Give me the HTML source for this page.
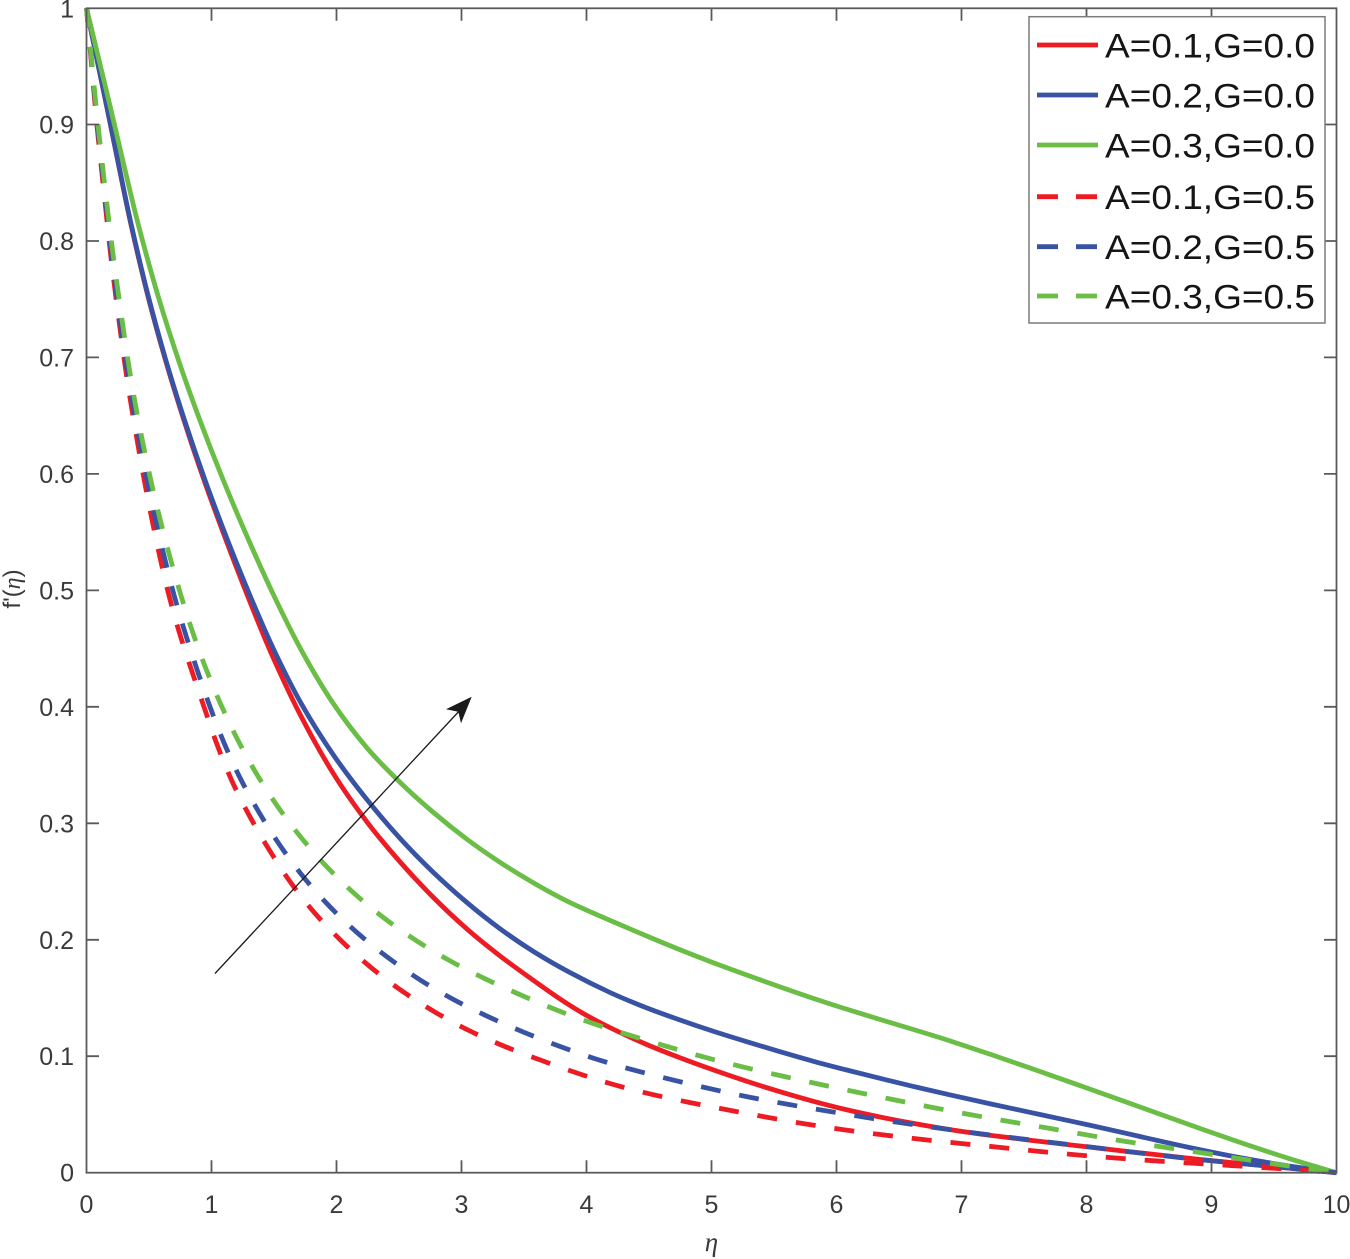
<!DOCTYPE html>
<html><head><meta charset="utf-8"><style>
html,body{margin:0;padding:0;background:#fff;}
svg{display:block;}
</style></head><body>
<svg id="chart" width="1350" height="1259" viewBox="0 0 1350 1259" xmlns="http://www.w3.org/2000/svg">
<rect width="1350" height="1259" fill="#fff"/>
<g fill="none" stroke-width="4.8" stroke-linejoin="round">
<polyline class="c" stroke="#ED1C24" points="86.5,8 97,60 107.5,110 118,160 129,220 148.3,300 165,360 183.5,420 203.5,480 225.5,540 249.5,600 268.5,650 300,716.7 333,776.7 366.7,823 400,863 433,898 466.7,930 500,956.7 533,980 566.7,1004 580,1012 613.3,1030 646.7,1045 680,1058 713.3,1070 746.7,1081.7 780,1091.7 813.3,1101.7 846.7,1110 880,1117.3 913.3,1123.3 946.7,1129.5 990,1135.5 1040,1141.5 1090,1147 1140,1153 1190,1158.5 1240,1163.5 1290,1168 1336.5,1172.7"/>
<polyline class="c" stroke="#3953A4" points="86.5,8 97,60 107.5,110 118,160 129.3,220 148.6,300 165.3,360 184,420 204.5,480 227,540 251.5,600 273.3,650 300,705 333,756.7 366.7,800 400,840 433,873 466.7,903 500,930 533,951.7 566.7,971.7 613.3,995 646.7,1008.3 680,1020 713.3,1031.7 746.7,1041.7 780,1051.7 813.3,1061.7 846.7,1070 880,1078.3 913.3,1086.7 946.7,1094 990,1104 1040,1114.5 1090,1125 1140,1136.5 1190,1148 1240,1158 1290,1166.7 1336.5,1172.7"/>
<polyline class="c" stroke="#6ABD45" points="86.5,8 99,60 111,110 123,160 136,220 158.6,300 177.9,360 199.3,420 222.7,480 248.1,540 275.5,600 300,650 333,706.7 366.7,750 400,783 433,813 466.7,840 500,863 533,883 566.7,901.7 580,907 613.3,922 646.7,936 680,950 713.3,963 746.7,975 780,987 813.3,998.5 836,1006 880,1019.5 913.3,1029.5 946.7,1039.5 990,1054 1040,1071.5 1090,1089 1140,1107 1190,1125 1240,1142.5 1290,1159.5 1336.5,1172.7"/>
</g>
<g fill="none" stroke-width="4.8" stroke-dasharray="20 19" stroke-linejoin="round">
<polyline class="c" stroke="#ED1C24" points="86.5,8 91,57 94.3,97 97.7,135 102,173 106,210 110,252 115,290 120,328 125,367 131,405 137.7,443 144.3,482 152,520 160,558 168.7,597 179.3,633 191,670 205,708 216.7,746.7 231.7,781.7 249,816.7 269,850 290,883 313,913 341.7,941.7 370,968 401.7,991.7 435,1012.7 468,1031 504,1046.7 540,1060 581.7,1075 613.3,1085 652.7,1095 690,1102.7 728.3,1110 766.7,1117.3 806,1124.3 844.3,1130 883.3,1135 921.7,1139.5 960,1143.5 998,1147 1038,1151.5 1077,1155 1115,1158 1155,1161 1193,1163.3 1232,1165.5 1270,1168 1310,1170.7 1336.5,1172.7"/>
<polyline class="c" stroke="#3953A4" points="86.5,8 91.3,57 94.8,97 98.3,135 102.7,173 106.8,210 111,252 116,290 121.2,328 126.5,367 132.8,405 140,443 147,482 155.5,520 164.5,558 174,597 185,633 197,670 210,708 224,744 240,780 259,813 280,846.7 303,878 329,906.7 357,934 388,958 420,981 453,1000 488,1017 524,1032.7 560,1046.7 596.7,1060 635,1070.7 672.7,1080 710.7,1089 748.3,1097.3 786.7,1104.3 826,1110.7 864,1117.3 902.7,1123.3 941.7,1128.3 980,1134 1040,1141 1090,1147 1140,1153 1190,1159 1240,1163.5 1290,1168 1336.5,1172.7"/>
<polyline class="c" stroke="#6ABD45" points="86.5,8 91.5,57 95,97 99,135 103.5,173 107.7,213 112.7,252 117.7,290 123.3,328 128.7,367 135.3,405 142.7,443 151,482 160,520 170,558 181,597 192.7,633 205,668 220.7,705 237,740 256,774 277,807 300.7,838 326.7,868 355,895 384,919 416.7,941.7 450,961.7 485,979 520,995 556,1010 593,1024.5 630,1035 667.3,1046.7 705,1057.7 743.3,1067.3 781.7,1076 819.3,1084.3 857.3,1092.3 895,1100 933.3,1107.7 971.7,1115 1010,1121.7 1048,1128 1087,1135 1125,1141.7 1163,1147 1203,1153 1242,1159 1280,1165 1336.5,1172.7"/>
</g>
<!-- arrow -->
<line x1="215" y1="973.5" x2="462" y2="708" stroke="#1a1a1a" stroke-width="1.3"/>
<polygon points="471.7,696.7 446,709.3 458.3,711.7 461,723.3" fill="#1a1a1a"/>
<!-- axes -->
<g stroke="#5a5a5a" stroke-width="1.8" fill="none">
<rect x="86.5" y="8.3" width="1250" height="1164.4"/>
<path d="M211.5,1172.7v-12.5M336.5,1172.7v-12.5M461.5,1172.7v-12.5M586.5,1172.7v-12.5M711.5,1172.7v-12.5M836.5,1172.7v-12.5M961.5,1172.7v-12.5M1086.5,1172.7v-12.5M1211.5,1172.7v-12.5
M211.5,8.3v12.5M336.5,8.3v12.5M461.5,8.3v12.5M586.5,8.3v12.5M711.5,8.3v12.5M836.5,8.3v12.5M961.5,8.3v12.5M1086.5,8.3v12.5M1211.5,8.3v12.5
M86.5,1056.2h12.5M86.5,939.8h12.5M86.5,823.3h12.5M86.5,706.8h12.5M86.5,590.4h12.5M86.5,473.9h12.5M86.5,357.4h12.5M86.5,241h12.5M86.5,124.5h12.5
M1336.5,1056.2h-12.5M1336.5,939.8h-12.5M1336.5,823.3h-12.5M1336.5,706.8h-12.5M1336.5,590.4h-12.5M1336.5,473.9h-12.5M1336.5,357.4h-12.5M1336.5,241h-12.5M1336.5,124.5h-12.5"/>
</g>
<g font-family="Liberation Sans, Arial, sans-serif" font-size="25" fill="#3a3a3a" text-anchor="middle">
<text x="86.5" y="1213">0</text>
<text x="211.5" y="1213">1</text>
<text x="336.5" y="1213">2</text>
<text x="461.5" y="1213">3</text>
<text x="586.5" y="1213">4</text>
<text x="711.5" y="1213">5</text>
<text x="836.5" y="1213">6</text>
<text x="961.5" y="1213">7</text>
<text x="1086.5" y="1213">8</text>
<text x="1211.5" y="1213">9</text>
<text x="1336.5" y="1213">10</text>
</g>
<g font-family="Liberation Sans, Arial, sans-serif" font-size="25" fill="#3a3a3a" text-anchor="end">
<text x="74" y="1181.7">0</text>
<text x="74" y="1065.2">0.1</text>
<text x="74" y="948.8">0.2</text>
<text x="74" y="832.3">0.3</text>
<text x="74" y="715.8">0.4</text>
<text x="74" y="599.4">0.5</text>
<text x="74" y="482.9">0.6</text>
<text x="74" y="366.4">0.7</text>
<text x="74" y="250">0.8</text>
<text x="74" y="133.5">0.9</text>
<text x="74" y="17.3">1</text>
</g>
<text x="711.5" y="1251" font-family="Liberation Serif, serif" font-style="italic" font-size="27" fill="#3a3a3a" text-anchor="middle">η</text>
<text transform="translate(20,589) rotate(-90)" text-anchor="middle" font-family="Liberation Sans, Arial, sans-serif" font-size="24" fill="#3a3a3a">f'(<tspan font-family="Liberation Serif, serif" font-style="italic">η</tspan>)</text>
<!-- legend -->
<rect x="1029" y="16.7" width="296" height="306.3" fill="#fff" stroke="#7a7a7a" stroke-width="1.5"/>
<g stroke-width="4.8" fill="none">
<line x1="1037" y1="45" x2="1098" y2="45" stroke="#ED1C24"/>
<line x1="1037" y1="95" x2="1098" y2="95" stroke="#3953A4"/>
<line x1="1037" y1="145" x2="1098" y2="145" stroke="#6ABD45"/>
<line x1="1037" y1="196.7" x2="1098" y2="196.7" stroke="#ED1C24" stroke-dasharray="21 18"/>
<line x1="1037" y1="246.7" x2="1098" y2="246.7" stroke="#3953A4" stroke-dasharray="21 18"/>
<line x1="1037" y1="296" x2="1098" y2="296" stroke="#6ABD45" stroke-dasharray="21 18"/>
</g>
<g font-family="Liberation Sans, Arial, sans-serif" font-size="34.5" fill="#151515">
<text x="1105" y="57.5" textLength="210" lengthAdjust="spacingAndGlyphs">A=0.1,G=0.0</text>
<text x="1105" y="107.5" textLength="210" lengthAdjust="spacingAndGlyphs">A=0.2,G=0.0</text>
<text x="1105" y="157.5" textLength="210" lengthAdjust="spacingAndGlyphs">A=0.3,G=0.0</text>
<text x="1105" y="209" textLength="210" lengthAdjust="spacingAndGlyphs">A=0.1,G=0.5</text>
<text x="1105" y="259" textLength="210" lengthAdjust="spacingAndGlyphs">A=0.2,G=0.5</text>
<text x="1105" y="308.5" textLength="210" lengthAdjust="spacingAndGlyphs">A=0.3,G=0.5</text>
</g>
</svg>
<script>
(function(){
  var NS="http://www.w3.org/2000/svg";
  var list=document.querySelectorAll('polyline.c');
  for(var k=0;k<list.length;k++){
    var pl=list[k];
    var raw=pl.getAttribute('points').trim().split(/\s+/).map(function(s){return s.split(',').map(Number);});
    var n=raw.length;
    var q=[];
    for(var i=0;i<n;i++){
      if(i===0||i===n-1){q.push(raw[i]);continue;}
      q.push([0.25*raw[i-1][0]+0.5*raw[i][0]+0.25*raw[i+1][0],
              0.25*raw[i-1][1]+0.5*raw[i][1]+0.25*raw[i+1][1]]);
    }
    var d='M'+q[0][0].toFixed(2)+','+q[0][1].toFixed(2);
    for(var j=0;j<n-1;j++){
      var p0=q[Math.max(j-1,0)],p1=q[j],p2=q[j+1],p3=q[Math.min(j+2,n-1)];
      var c1x=p1[0]+(p2[0]-p0[0])/6,c1y=p1[1]+(p2[1]-p0[1])/6;
      var c2x=p2[0]-(p3[0]-p1[0])/6,c2y=p2[1]-(p3[1]-p1[1])/6;
      d+='C'+c1x.toFixed(2)+','+c1y.toFixed(2)+' '+c2x.toFixed(2)+','+c2y.toFixed(2)+' '+p2[0].toFixed(2)+','+p2[1].toFixed(2);
    }
    var path=document.createElementNS(NS,'path');
    path.setAttribute('d',d);
    path.setAttribute('stroke',pl.getAttribute('stroke'));
    pl.parentNode.replaceChild(path,pl);
  }
})();
</script>
</body></html>
